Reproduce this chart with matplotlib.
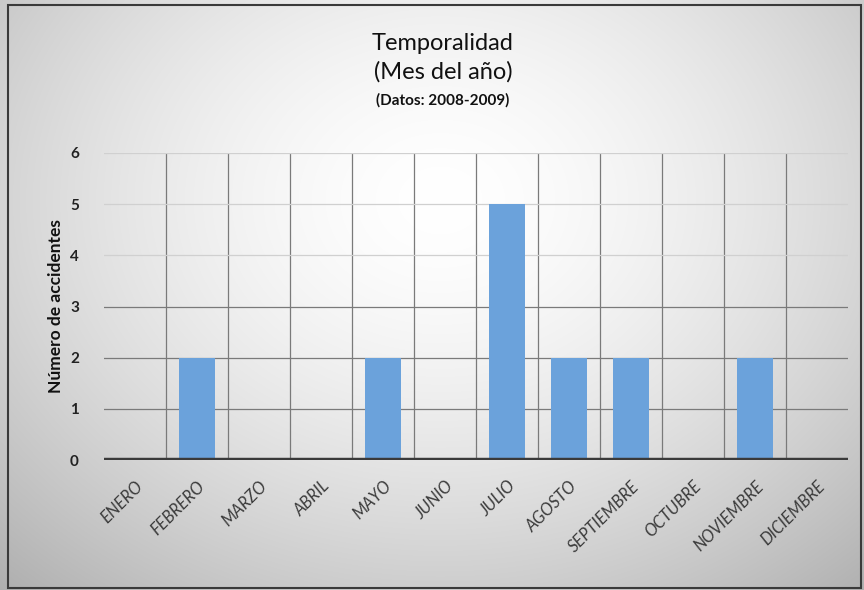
import numpy as np
import matplotlib
matplotlib.use("Agg")
import matplotlib.pyplot as plt
from matplotlib.patches import Rectangle

plt.rcParams['font.family'] = ['Lato', 'DejaVu Sans']

meses = ["ENERO", "FEBRERO", "MARZO", "ABRIL", "MAYO", "JUNIO", "JULIO",
         "AGOSTO", "SEPTIEMBRE", "OCTUBRE", "NOVIEMBRE", "DICIEMBRE"]
accidentes = [0, 2, 0, 0, 2, 0, 5, 2, 2, 0, 2, 0]
y_ticks = [0, 1, 2, 3, 4, 5, 6]

W, H = 864, 590
fig = plt.figure(figsize=(W / 100, H / 100), dpi=100)

# radial background: white near the title, grey toward the edges
bg = fig.add_axes([0, 0, 1, 1], zorder=0)
yy, xx = np.mgrid[0:H, 0:W]
r = np.sqrt(((xx - 440) / 520.0) ** 2 + ((yy - 200) / 420.0) ** 2)
shade = 1.0 - 0.22 * np.clip(r, 0, 1.3) ** 1.6
img = np.dstack([shade, shade, shade])
bg.imshow(img, extent=[0, W, H, 0], aspect='auto', interpolation='bilinear')
bg.set_xlim(0, W)
bg.set_ylim(H, 0)
bg.axis('off')
bg.add_patch(Rectangle((8, 5), 853, 583, fill=False, edgecolor='#3a3a3a', lw=1.5))

left, right = 104, 848
top, bottom = 153, 460
ax = fig.add_axes([left / W, 1 - bottom / H, (right - left) / W, (bottom - top) / H], zorder=1)
ax.patch.set_alpha(0)

x = np.arange(len(meses))
ax.bar(x, accidentes, width=0.58, color='#6ba2db', zorder=3)

ax.set_xlim(-0.5, len(meses) - 0.5)
ax.set_ylim(0, 6)
ax.set_yticks(y_ticks)
ax.set_yticklabels([str(v) for v in y_ticks], fontweight='bold', fontsize=11, color='#222222')
ax.set_xticks(x)
ax.set_xticklabels(meses, rotation=45, ha='right', rotation_mode='anchor',
                   fontsize=12, color='#3c3c3c', style='italic')
ax.tick_params(axis='both', length=0)
ax.tick_params(axis='y', pad=18)
ax.tick_params(axis='x', pad=13)

# category separators and value gridlines
for b in np.arange(0.5, len(meses) - 0.5, 1.0):
    ax.axvline(b, color='#7a7a7a', lw=0.9, zorder=1)
for v in y_ticks[1:]:
    ax.axhline(v, color='#7a7a7a' if v <= 3 else '#d0d0d0', lw=0.9, zorder=1)
ax.axhline(0, color='#3a3a3a', lw=3.2, zorder=4)

for s in ax.spines.values():
    s.set_visible(False)

ax.set_ylabel("Número de accidentes", fontweight='bold', fontsize=12.5, color='#111111', labelpad=4)

fig.text(443 / W, 1 - 43 / H, "Temporalidad", ha='center', va='center', fontsize=17, color='#111111')
fig.text(443 / W, 1 - 72 / H, "(Mes del año)", ha='center', va='center', fontsize=17, color='#111111')
fig.text(443 / W, 1 - 100 / H, "(Datos: 2008-2009)", ha='center', va='center', fontsize=11,
         fontweight='bold', color='#111111')

fig.savefig("out.png", dpi=100)
